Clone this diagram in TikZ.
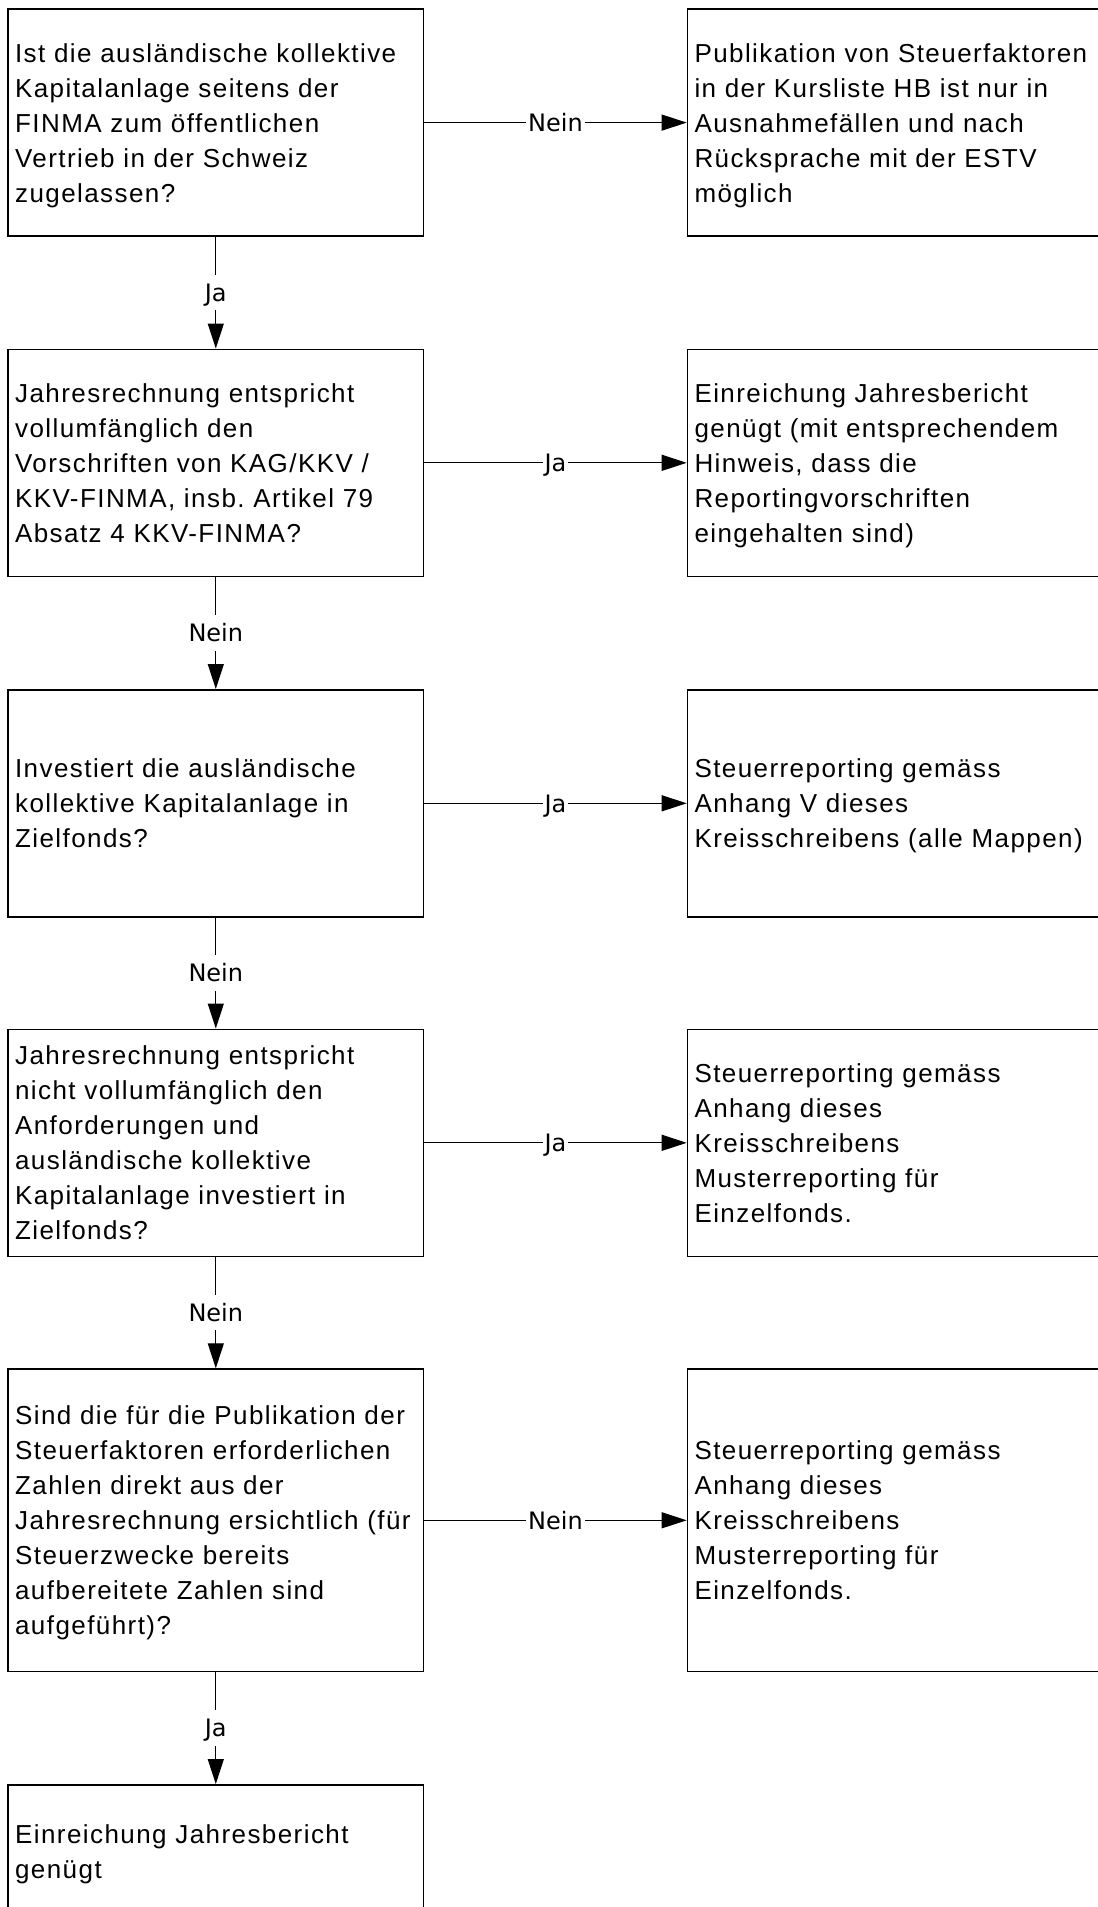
\documentclass[tikz,border=0pt]{standalone}
\usepackage{fontspec}
\setmainfont{Liberation Sans}[LetterSpace=5.5]
\newfontfamily\dejavu{DejaVu Sans}
\usetikzlibrary{arrows.meta}
\setlength{\parindent}{0pt}
\frenchspacing
\newcommand{\ls}{\rule[-4pt]{0pt}{17.5pt}}
\newcommand{\Ln}[1]{\mbox{\ls#1}}
\tikzset{
  box/.style={draw=black, line width=0.8pt, rectangle, anchor=north west,
    minimum width=207.7pt, minimum height=113.5pt,
    inner xsep=3.5pt, inner ysep=0pt, text width=200.7pt, align=left,
    font=\fontsize{13pt}{17.5pt}\selectfont},
  conn/.style={draw=black, line width=0.6pt, -{Triangle[length=12.5pt,width=8pt]}},
  lbl/.style={fill=white, font=\fontsize{12pt}{13pt}\selectfont\dejavu,
    inner xsep=1pt, inner ysep=4.5pt, text height=8.7pt, text depth=0pt}
}
\begin{document}
\begin{tikzpicture}[x=0.5pt,y=-0.5pt]
\useasboundingbox (0,0) rectangle (1098,1907);
\fill[white] (0,0) rectangle (1098,1907);

\node[box] (q1) at (7.3,8.3) {\Ln{Ist die ausländische kollektive}\\\Ln{Kapitalanlage seitens der}\\\Ln{FINMA zum öffentlichen}\\\Ln{Vertrieb in der Schweiz}\\\Ln{zugelassen?}};
\node[box] (a1) at (686.7,8.3) {\Ln{Publikation von Steuerfaktoren}\\\Ln{in der Kursliste HB ist nur in}\\\Ln{Ausnahmefällen und nach}\\\Ln{Rücksprache mit der ESTV}\\\Ln{möglich}};

\node[box] (q2) at (7.3,348.5) {\Ln{Jahresrechnung entspricht}\\\Ln{vollumfänglich den}\\\Ln{Vorschriften von KAG/KKV /}\\\Ln{KKV-FINMA, insb. Artikel 79}\\\Ln{Absatz 4 KKV-FINMA?}};
\node[box] (a2) at (686.7,348.5) {\Ln{Einreichung Jahresbericht}\\\Ln{genügt (mit entsprechendem}\\\Ln{Hinweis, dass die}\\\Ln{Reportingvorschriften}\\\Ln{eingehalten sind)}};

\node[box] (q3) at (7.3,689) {\Ln{Investiert die ausländische}\\\Ln{kollektive Kapitalanlage in}\\\Ln{Zielfonds?}};
\node[box] (a3) at (686.7,689) {\Ln{Steuerreporting gemäss}\\\Ln{Anhang V dieses}\\\Ln{Kreisschreibens (alle Mappen)}};

\node[box] (q4) at (7.3,1028.5) {\Ln{Jahresrechnung entspricht}\\\Ln{nicht vollumfänglich den}\\\Ln{Anforderungen und}\\\Ln{ausländische kollektive}\\\Ln{Kapitalanlage investiert in}\\\Ln{Zielfonds?}};
\node[box] (a4) at (686.7,1028.5) {\Ln{Steuerreporting gemäss}\\\Ln{Anhang dieses}\\\Ln{Kreisschreibens}\\\Ln{Musterreporting für}\\\Ln{Einzelfonds.}};

\node[box, minimum height=151.2pt] (q5) at (7.3,1368.3) {\Ln{Sind die für die Publikation der}\\\Ln{Steuerfaktoren erforderlichen}\\\Ln{Zahlen direkt aus der}\\\Ln{Jahresrechnung ersichtlich (für}\\\Ln{Steuerzwecke bereits}\\\Ln{aufbereitete Zahlen sind}\\\Ln{aufgeführt)?}};
\node[box, minimum height=151.2pt] (a5) at (686.7,1368.3) {\Ln{Steuerreporting gemäss}\\\Ln{Anhang dieses}\\\Ln{Kreisschreibens}\\\Ln{Musterreporting für}\\\Ln{Einzelfonds.}};

\node[box, minimum height=66.5pt] (q6) at (7.3,1784) {\Ln{Einreichung Jahresbericht}\\\Ln{genügt}};

\draw[conn] (q1.east) -- node[lbl]{Nein} (a1.west);
\draw[conn] (q2.east) -- node[lbl]{Ja} (a2.west);
\draw[conn] (q3.east) -- node[lbl]{Ja} (a3.west);
\draw[conn] (q4.east) -- node[lbl]{Ja} (a4.west);
\draw[conn] (q5.east) -- node[lbl]{Nein} (a5.west);

\draw[conn] (q1.south) -- node[lbl]{Ja} (q2.north);
\draw[conn] (q2.south) -- node[lbl]{Nein} (q3.north);
\draw[conn] (q3.south) -- node[lbl]{Nein} (q4.north);
\draw[conn] (q4.south) -- node[lbl]{Nein} (q5.north);
\draw[conn] (q5.south) -- node[lbl]{Ja} (q6.north);
\end{tikzpicture}
\end{document}
